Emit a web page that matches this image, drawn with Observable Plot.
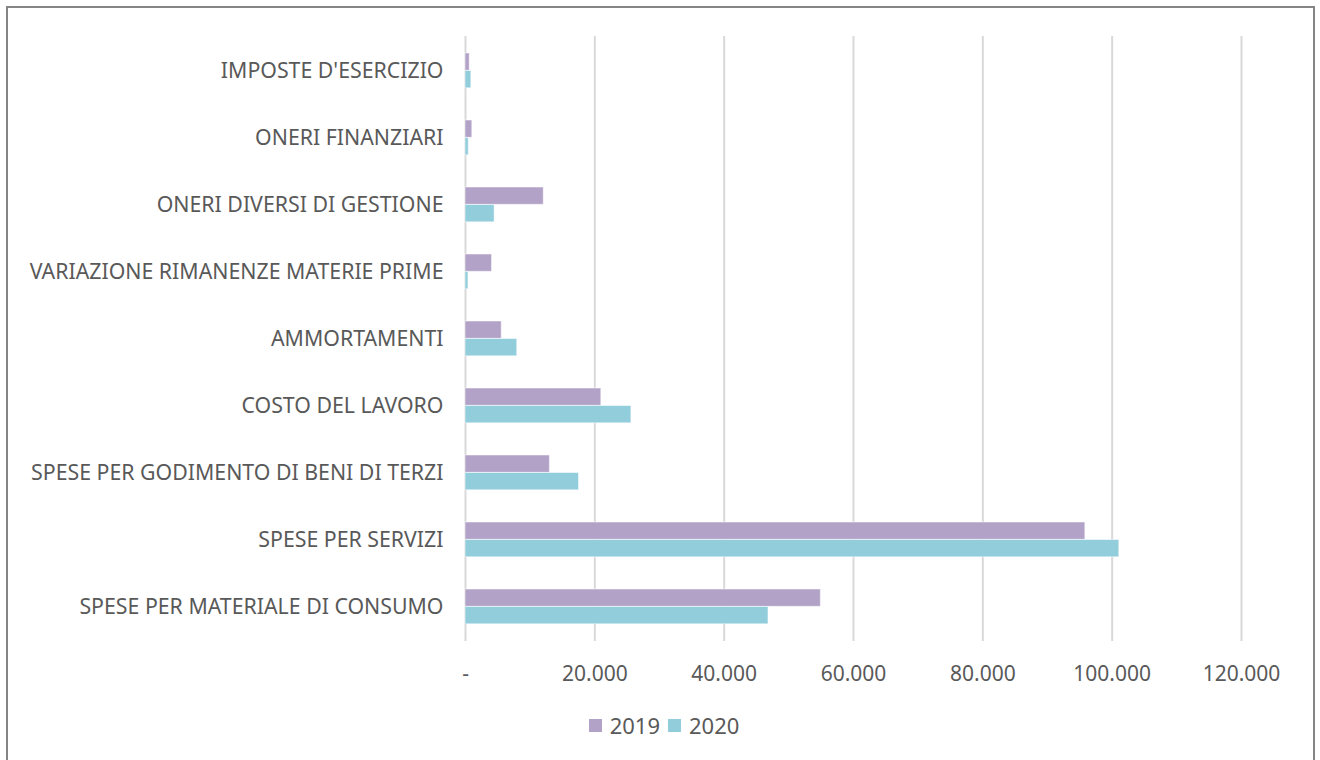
<!DOCTYPE html>
<html>
<head>
<meta charset="utf-8">
<script src="https://cdn.jsdelivr.net/npm/d3@7"></script>
<script src="https://cdn.jsdelivr.net/npm/@observablehq/plot@0.6"></script>
<style>
  html, body { margin: 0; padding: 0; background: #fff; }
  body { width: 1320px; height: 760px; position: relative; overflow: hidden; font-family: "Noto Sans", sans-serif; }
  #frame { position: absolute; left: 6px; top: 6px; width: 1309px; height: 800px; border: 2px solid #858585; box-sizing: border-box; }
  #chart { position: absolute; left: 0; top: 0; }
  #legend { position: absolute; top: 710px; left: 0; width: 1320px; display: flex; justify-content: center; color: #595959; font-size: 22px; padding-left: 8px; box-sizing: border-box; }
  .item { display: flex; align-items: center; }
  .item + .item { margin-left: 8px; }
  .sw { width: 13px; height: 13px; margin-right: 8px; display: inline-block; }
</style>
</head>
<body>
<div id="frame"></div>
<div id="chart"></div>
<div id="legend"></div>
<script>
const categories = [
  "IMPOSTE D'ESERCIZIO",
  "ONERI FINANZIARI",
  "ONERI DIVERSI DI GESTIONE",
  "VARIAZIONE RIMANENZE MATERIE PRIME",
  "AMMORTAMENTI",
  "COSTO DEL LAVORO",
  "SPESE PER GODIMENTO DI BENI DI TERZI",
  "SPESE PER SERVIZI",
  "SPESE PER MATERIALE DI CONSUMO"
];
const years = ["2019", "2020"];
const values2019 = [650, 1050, 12100, 4100, 5600, 21000, 13050, 95850, 54950];
const values2020 = [900, 500, 4500, 450, 8000, 25650, 17550, 101100, 46850];
const xTicks = [0, 20000, 40000, 60000, 80000, 100000, 120000];
const colors = ["#B3A2C7", "#92CDDC"];

const rows2019 = categories.map((c, i) => ({category: c, year: years[0], value: values2019[i]}));
const rows2020 = categories.map((c, i) => ({category: c, year: years[1], value: values2020[i]}));

const fmt = d => d === 0 ? "-" : d3.format(",")(d).replace(/,/g, ".");

const chart = Plot.plot({
  width: 1320,
  height: 700,
  marginLeft: 465,
  marginRight: 79,
  marginTop: 36,
  marginBottom: 59,
  style: {fontFamily: "Noto Sans, sans-serif", color: "#595959", background: "transparent"},
  x: {domain: [0, 120000], ticks: xTicks},
  y: {domain: categories, padding: 0},
  color: {domain: years, range: colors},
  marks: [
    Plot.gridX(xTicks, {stroke: "#D9D9D9", strokeOpacity: 1, strokeWidth: 2}),
    Plot.barX(rows2019, {x: "value", y: "category", fill: "year", insetTop: 16, insetBottom: 33.7, stroke: "#ffffff", strokeOpacity: 0.5, strokeWidth: 1}),
    Plot.barX(rows2020, {x: "value", y: "category", fill: "year", insetTop: 33.5, insetBottom: 16.2, stroke: "#ffffff", strokeOpacity: 0.5, strokeWidth: 1}),
    Plot.axisX({ticks: xTicks, tickFormat: fmt, tickSize: 0, tickPadding: 25, fontSize: 21, fill: "#595959", label: null}),
    Plot.axisY({tickSize: 0, tickPadding: 22, fontSize: 21.3, fill: "#595959", label: null})
  ]
});
document.getElementById("chart").appendChild(chart);

const legend = document.getElementById("legend");
years.forEach((y, i) => {
  const it = document.createElement("div");
  it.className = "item";
  const sw = document.createElement("span");
  sw.className = "sw";
  sw.style.background = colors[i];
  it.appendChild(sw);
  const t = document.createElement("span");
  t.textContent = y;
  it.appendChild(t);
  legend.appendChild(it);
});
</script>
</body>
</html>
